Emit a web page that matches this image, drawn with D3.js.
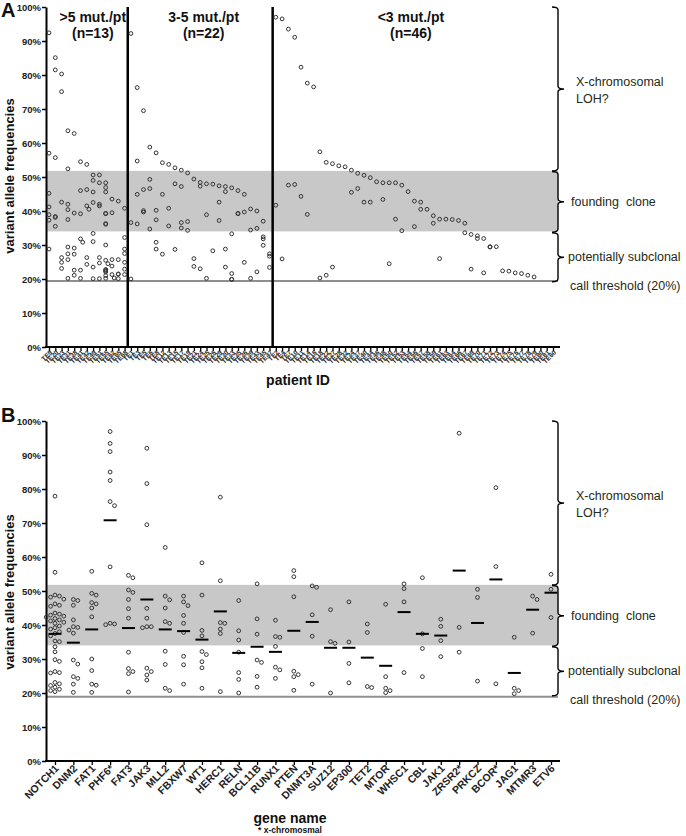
<!DOCTYPE html>
<html><head><meta charset="utf-8">
<script src="https://cdn.jsdelivr.net/npm/d3@7"></script>
<style>
body{margin:0;background:#fff;}
svg{display:block;font-family:Arial,"Liberation Sans",sans-serif;}
</style></head>
<body><svg id="c" width="686" height="836"></svg>
<script>
// ---------- DATA ----------
const patientIds = ["TE9","TE20","TE23","TE31","TE38","TE41","TE42","TE49","TE51","TE55","TE62","TE65","TE68",
 "TE1","TE3","TE5","TE6","TE8","TE12","TE13","TE15","TE17","TE19","TE21","TE24","TE25","TE26","TE29","TE30","TE33","TE35","TE36","TE39","TE43","TE45","TE47",
 "TE2","TE4","TE7","TE10","TE11","TE14","TE16","TE18","TE22","TE27","TE28","TE32","TE34","TE37","TE40","TE44","TE46","TE48","TE50","TE52","TE53","TE54","TE56","TE57","TE58","TE59","TE61","TE63","TE64","TE66","TE67","TE69","TE70","TE71","TE72","TE73","TE74","TE75","TE76","TE77","TE78","TE79","TE80","TE81","TE60"];
// variant allele frequencies (%) per patient, in the order of patientIds
const vafByPatient = [
 [92.4,57,45.2,41.2,38.9,37.3,28.8],
 [85.1,81.5,55.7,38.4,38.1,35.5],
 [80.3,75.1,42.6,26.3,24.9,23.1],
 [63.6,52.4,42,40.4,37.5,29.4,27.4,25.7,20.2],
 [62.8,39.4,29.1,27.3,22.6,21.1],
 [54.5,46,39.2,31.8,30.8,22.6,20.2],
 [53.7,46.3,41.5,40.5,26.3,24.3],
 [50.6,49,45.6,42.5,33.4,31.0,23.5,20.1],
 [50.6,48.3,42,41.5,26.3,24.7,20.1],
 [48.3,46.9,45.6,39.2,39.3,36.3,36.1,30,25.5,24.5,22.3,22.6,22.8,22.1,21,20.2],
 [43.5,39.5,25.7,23.8,21.3,20.3],
 [42.9,25.7,21.4,20.1,21.5],
 [40.8,32.2,28.8,27.5,24.9,22.9,21.3],
 [92.2,36.6,20],
 [76.3,54.7,44.9,36.2],
 [69.5,46.3,39.7,40.1],
 [58.8,49.3,46.6,34.7],
 [57.1,40.2,37.4,30.8,28.8],
 [54.2,44.9,27.3],
 [53.7,40.8,35.6],
 [52.7,48,28.7],
 [52,47.2,36.6,35],
 [51.2,36.9,34.3],
 [49.4,26,23.7],
 [48.4,47.3,23],
 [48,38.9,20.2],
 [47.9,28.3],
 [47.4,42.6,37.2],
 [47.2,45.7,28.8,23.5],
 [46.8,33.3,21.6,19.9,19.9],
 [46,39.2,39.3],
 [44.9,39.7,24.9],
 [40.6,34.4,20.2],
 [40,34.9,22.1],
 [37,32.4,31.8,29.9],
 [27.4,26.7,23.4],
 [97,41.7],
 [96.5,25.9],
 [93.5,47.6],
 [91.1,47.8],
 [82.3,44.3],
 [77.6,39],
 [76.5],
 [57.4,20.3],
 [54.3,21.1],
 [53.9,23.5],
 [53.3],
 [53],
 [52,45.5],
 [51.1,46.6],
 [50.5,42.6],
 [49.8,42.6],
 [48.6],
 [48.3,43.4],
 [48.3,24.5],
 [48.3,37.6],
 [47.6,34.2],
 [45.7],
 [42.9,35.4],
 [42.6,40.5],
 [40.5],
 [38.6,36.4],
 [37.6,26],
 [37.6],
 [37.5],
 [37.2],
 [36.4,33.6],
 [33.1,22.9],
 [31.9,32.7],
 [31.9,21.8],
 [29.5,29.4],
 [29.5],
 [22.4],
 [22.3],
 [21.8],
 [21.6],
 [21.1],
 [20.6],
 [],[],[]
];
const groupTitles = [">5 mut./pt","3-5 mut./pt","<3 mut./pt"];
const groupCounts = ["(n=13)","(n=22)","(n=46)"];
const groupSizes = [13,23,45];

const genes = ["NOTCH1","DNM2","FAT1","PHF6*","FAT3","JAK3","MLL2","FBXW7","WT1","HERC1","RELN","BCL11B","RUNX1","PTEN","DNMT3A","SUZ12","EP300","TET2","MTOR","WHSC1","CBL","JAK1","ZRSR2*","PRKCZ","BCOR*","JAG1","MTMR3","ETV6"];
const geneVafs = [
 [77.9,55.5,48.8,48.5,48.2,47.6,46.2,45.8,45.5,43.5,43.2,42.9,42.6,42.3,41.9,41.5,41.2,40.8,40.5,39.7,39.2,38.8,38,37.5,36.8,35.3,35.1,33.6,32.1,29.8,29.3,26.3,26,25.9,23.1,22.7,22.2,21.7,21.1,20.7,20.4],
 [47.5,47.2,45.8,41.5,39.5,39.3,38.5,37.6,29.7,28.5,24.8,24.3,22.6,20.2],
 [55.8,49.3,48.8,46.6,46.2,45,42.4,30,26.6,22.6,22.3,20.2],
 [96.9,93.4,91,85,82.5,76.3,75.1,57.1,40.5,40.1,40.3],
 [54.6,53.9,50.3,49.6,47.5,44.8,42,32,27.2,26.3,25.7,20.3],
 [92,81.6,69.5,44.9,42,39.5,39.2,39.5,27.3,26.3,25.3,23.8],
 [62.8,48.5,47.4,45,41,40.5,32.3,28.4,21.4,20.7],
 [48.5,46.8,45.7,42.8,40.5,37.8,30.8,28.3,22.6],
 [58.3,48.8,38.4,36.8,32.2,31.3,29.2,27.4,21.4],
 [77.6,53,40.7,40.5,38.8,37.5,20.4],
 [47.2,38.3,35.6,32,26,24,20],
 [52.1,41.8,37.3,29.7,29,24.9,21.7],
 [41.4,36.6,36.4,33.7,27.6,26.8,24.3],
 [56,54.2,48.3,26.4,25.4,24.8,20.8],
 [51.5,51.1,43,36.7,22.6],
 [44.5,35.1,34.6,20],
 [46.8,35,28.7,23],
 [40.3,37.8,21.9,21.6],
 [46.1,24.8,21.4,20.7,20.1],
 [52.1,50.7,46.8,26],
 [53.9,37.4,33.1,24.8],
 [41.7,39.6,35.4,30.7],
 [96.4,39.3,32],
 [50.5,48.1,23.5],
 [80.4,57.2,22.7],
 [36.4,21.4,20.7,19.8],
 [48.5,47.5,37.6],
 [54.9,50.5,42.2]
];
const geneMeans = [37.4,34.8,38.7,70.8,39.1,47.5,38.7,38.2,35.7,44,31.8,33.6,32.1,38.3,40.9,33.3,33.3,30.4,28,43.8,37.4,36.9,56,40.6,53.4,25.9,44.5,49.5];

const yTicks = [0,10,20,30,40,50,60,70,80,90,100];
const bandRange = [34, 51.8];
const thresholdA = 19.4, thresholdB = 18.9;
const regionLabels = [["X-chromosomal","LOH?"],["founding  clone"],["potentially subclonal"]];
const regionBounds = [[100,51.8],[51.6,33.8],[33.6,19.2]];

// ---------- DRAW ----------
const svg = d3.select("#c");
const FONT = 'Arial,"Liberation Sans",sans-serif';
const txtColor = "#1f2a14";

function panel(cfg){
  const g = svg.append("g");
  const y = cfg.y, x = cfg.x;
  g.append("rect").attr("x", cfg.x0+1).attr("width", cfg.x1-cfg.x0-1)
   .attr("y", y(bandRange[1])).attr("height", y(bandRange[0])-y(bandRange[1])).attr("fill","#c8c8c8");
  g.append("line").attr("x1",cfg.x0).attr("x2",cfg.x1).attr("y1",y(cfg.thr)).attr("y2",y(cfg.thr))
   .attr("stroke","#8e8e8e").attr("stroke-width",2);
  const ya = g.append("g").attr("transform",`translate(${cfg.x0},0)`)
   .call(d3.axisLeft(y).tickValues(yTicks).tickFormat(d=>d+"%").tickSize(4).tickSizeOuter(0));
  ya.select(".domain").attr("stroke","#000").attr("stroke-width",2);
  ya.selectAll(".tick line").attr("stroke","#000").attr("stroke-width",1.5);
  ya.selectAll(".tick text").attr("font-family",FONT).attr("font-size",9.5).attr("font-weight","bold").attr("fill","#222").attr("x",-5);
  const xa = g.append("g").attr("transform",`translate(0,${y(0)})`)
   .call(d3.axisBottom(x).tickSize(4).tickSizeOuter(0));
  xa.select(".domain").remove();
  xa.selectAll(".tick line").attr("stroke","#000").attr("stroke-width",1.3);
  xa.selectAll(".tick text").attr("font-family",FONT).attr("font-size",cfg.tickFont).attr("font-weight","bold")
   .attr("fill","#222").attr("text-anchor","end").attr("dy",0).attr("y",0)
   .attr("transform",`translate(${cfg.tickDx},${cfg.tickDy}) rotate(-45)`);
  g.append("line").attr("x1",cfg.x0-1).attr("x2",cfg.x1+2).attr("y1",y(0)).attr("y2",y(0)).attr("stroke","#000").attr("stroke-width",2);
  g.append("text").attr("transform",`translate(14,${cfg.ylabY}) rotate(-90)`).attr("text-anchor","middle")
   .attr("font-family",FONT).attr("font-size",13).attr("font-weight","bold").attr("fill","#111").text("variant allele frequencies");
  const bx = 558;
  regionBounds.forEach((b,i)=>{
    const y0=y(b[0]), y1=y(b[1]), ym=(y0+y1)/2;
    g.append("path").attr("d",`M${bx-6},${y0} Q${bx},${y0} ${bx},${y0+3} L${bx},${ym-3} Q${bx},${ym} ${bx+6},${ym} Q${bx},${ym} ${bx},${ym+3} L${bx},${y1-3} Q${bx},${y1} ${bx-6},${y1}`)
     .attr("fill","none").attr("stroke","#000").attr("stroke-width",1.4);
    const lines = regionLabels[i];
    const tx = i===0?576:(i===1?571:568);
    lines.forEach((t,j)=>{
      g.append("text").attr("x",tx).attr("y",ym+(i===0?6:4)+(j-(lines.length-1)/2)*17)
       .attr("font-family",FONT).attr("font-size",12.5).attr("fill",txtColor).style("white-space","pre").text(t);
    });
  });
  g.append("text").attr("x",570).attr("y",y(cfg.thr)+cfg.thrDy).attr("font-family",FONT).attr("font-size",12.5).attr("fill",txtColor).text("call threshold (20%)");
  return g;
}

function swarm(vals, y, step, minD, ks){
  const placed=[];
  const order = vals.map((v,i)=>({v,i})).sort((a,b)=>b.v-a.v);
  const out = new Array(vals.length);
  order.forEach(o=>{
    const py=y(o.v); let px=0;
    for(const k of ks){ const cx=k*step; if(placed.every(p=>Math.hypot(p.x-cx,p.y-py)>=minD)){px=cx;break;} }
    placed.push({x:px,y:py}); out[o.i]={v:o.v,dx:px};
  });
  return out;
}

// ---- Panel A ----
const yA = d3.scaleLinear().domain([0,100]).range([347,7]);
const xA = d3.scalePoint().domain(patientIds).range([49,553]);
const gA = panel({y:yA,x:xA,x0:46,x1:558,thr:thresholdA,thrDy:9,tickFont:6.5,tickDx:3,tickDy:6,ylabY:176});
let cum=0;
groupSizes.slice(0,2).forEach(n=>{
  cum+=n;
  const xd=(xA(patientIds[cum-1])+xA(patientIds[cum]))/2;
  gA.append("line").attr("x1",xd).attr("x2",xd).attr("y1",yA(100)).attr("y2",yA(0)).attr("stroke","#000").attr("stroke-width",2.5);
});
cum=0;
const titleShift = [6, 3.5, -6];
groupSizes.forEach((n,i)=>{
  const a = xA(patientIds[cum]), b = xA(patientIds[Math.min(cum+n-1,patientIds.length-1)]);
  let cx = (a+b)/2 + titleShift[i]; if(i===2) cx = (a + 558)/2 + titleShift[i];
  cum+=n;
  gA.append("text").attr("x",cx).attr("y",22).attr("text-anchor","middle").attr("font-family",FONT).attr("font-size",14).attr("font-weight","bold").attr("fill","#111").text(groupTitles[i]);
  gA.append("text").attr("x",cx).attr("y",38).attr("text-anchor","middle").attr("font-family",FONT).attr("font-size",14).attr("font-weight","bold").attr("fill","#111").text(groupCounts[i]);
});
patientIds.forEach((id,i)=>{
  const pts = swarm(vafByPatient[i], yA, 2.2, 3.6, [0,1,-1]);
  gA.selectAll(null).data(pts).enter().append("circle")
    .attr("cx",d=>xA(id)+d.dx).attr("cy",d=>yA(d.v)).attr("r",1.9)
    .attr("fill","none").attr("stroke","#333").attr("stroke-width",1);
});
gA.append("text").attr("x",298).attr("y",385).attr("text-anchor","middle").attr("font-family",FONT).attr("font-size",14).attr("font-weight","bold").attr("fill","#111").text("patient ID");
svg.append("text").attr("x",1).attr("y",17).attr("font-family",FONT).attr("font-size",20).attr("font-weight","bold").attr("fill","#111").text("A");

// ---- Panel B ----
const yB = d3.scaleLinear().domain([0,100]).range([761,421]);
const xB = d3.scalePoint().domain(genes).range([55,551]);
const gB = panel({y:yB,x:xB,x0:46,x1:558,thr:thresholdB,thrDy:7,tickFont:10.5,tickDx:4,tickDy:8,ylabY:592});
genes.forEach((gname,i)=>{
  const pts = swarm(geneVafs[i], yB, 4.4, 4.4, [0,1,-1,2,-2,3,-3]);
  gB.selectAll(null).data(pts).enter().append("circle")
    .attr("cx",d=>xB(gname)+d.dx).attr("cy",d=>yB(d.v)).attr("r",1.9)
    .attr("fill","none").attr("stroke","#333").attr("stroke-width",1);
  gB.append("line").attr("x1",xB(gname)-6.5).attr("x2",xB(gname)+6.5).attr("y1",yB(geneMeans[i])).attr("y2",yB(geneMeans[i]))
    .attr("stroke","#000").attr("stroke-width",2);
});
gB.append("text").attr("x",290).attr("y",823).attr("text-anchor","middle").attr("font-family",FONT).attr("font-size",14).attr("font-weight","bold").attr("fill","#111").text("gene name");
gB.append("text").attr("x",290).attr("y",833).attr("text-anchor","middle").attr("font-family",FONT).attr("font-size",8.5).attr("font-weight","bold").attr("fill","#111").text("* x-chromosmal");
svg.append("text").attr("x",1).attr("y",422).attr("font-family",FONT).attr("font-size",20).attr("font-weight","bold").attr("fill","#111").text("B");
</script></body></html>
